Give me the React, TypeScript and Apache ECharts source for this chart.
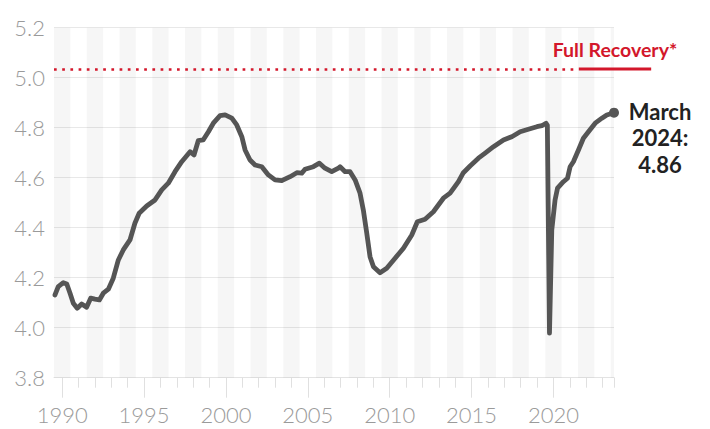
import React, { useEffect, useRef } from "react";
import * as echarts from "echarts";

// Decimal years (Jan = .0) and values
const YEARS = [
  1990.06, 1990.26, 1990.57, 1990.78, 1990.98, 1991.18, 1991.42, 1991.69, 1991.99, 1992.24,
  1992.5, 1992.77, 1993.01, 1993.32, 1993.62, 1993.93, 1994.23, 1994.64, 1994.94, 1995.2,
  1995.66, 1996.17, 1996.58, 1996.98, 1997.39, 1997.8, 1998.31, 1998.55, 1998.81, 1999.11,
  1999.43, 1999.73, 2000.14, 2000.45, 2000.86, 2001.16, 2001.47, 2001.67, 2001.97, 2002.28,
  2002.69, 2003.09, 2003.5, 2003.91, 2004.42, 2004.83, 2005.13, 2005.33, 2005.84, 2006.21,
  2006.55, 2006.96, 2007.37, 2007.47, 2007.78, 2008.08, 2008.39, 2008.69, 2008.89, 2009.1,
  2009.3, 2009.51, 2009.91, 2010.32, 2010.83, 2011.34, 2011.85, 2012.19, 2012.66, 2013.17,
  2013.78, 2014.19, 2014.7, 2015.0, 2015.41, 2015.92, 2016.33, 2016.84, 2017.45, 2017.96,
  2018.47, 2018.97, 2019.49, 2019.79, 2020.05, 2020.13, 2020.26, 2020.4, 2020.6, 2020.75,
  2021.11, 2021.36, 2021.52, 2021.72, 2022.03, 2022.33, 2022.64, 2023.05, 2023.46, 2023.76,
  2024.2,
];
const VALUES = [
  4.131, 4.164, 4.18, 4.175, 4.138, 4.098, 4.078, 4.095, 4.082, 4.118,
  4.114, 4.111, 4.138, 4.154, 4.198, 4.271, 4.311, 4.351, 4.418, 4.458,
  4.487, 4.511, 4.551, 4.578, 4.624, 4.664, 4.704, 4.691, 4.748, 4.751,
  4.784, 4.818, 4.848, 4.851, 4.838, 4.811, 4.764, 4.711, 4.671, 4.651,
  4.644, 4.611, 4.591, 4.588, 4.604, 4.62, 4.618, 4.634, 4.644, 4.658,
  4.638, 4.624, 4.638, 4.644, 4.624, 4.624, 4.591, 4.538, 4.471, 4.378,
  4.284, 4.244, 4.22, 4.238, 4.278, 4.318, 4.371, 4.424, 4.434, 4.464,
  4.518, 4.538, 4.584, 4.62, 4.647, 4.678, 4.698, 4.724, 4.751, 4.764,
  4.784, 4.794, 4.804, 4.808, 4.818, 4.81, 3.978, 4.391, 4.511, 4.558,
  4.584, 4.598, 4.644, 4.664, 4.711, 4.758, 4.784, 4.818, 4.838, 4.851,
  4.86,
];
const LABEL_YEARS = [1990, 1995, 2000, 2005, 2010, 2015, 2020];
const FULL_RECOVERY = 5.035;
const FULL_RECOVERY_TEXT = "Full Recovery*";
const RECOVERY_DOTTED_END = 2021.8;
const RECOVERY_SOLID_START = 2022.05;
const RECOVERY_SOLID_END = 2026.47;
const END_LABEL = ["March", "2024:", "4.86"];
const X_MIN = 1990;
const X_MAX = 2024.2;
const Y_MIN = 3.8;
const Y_MAX = 5.2;
const Y_STEP = 0.2;

export default function App() {
  const ref = useRef<HTMLDivElement>(null);

  useEffect(() => {
    const chart = echarts.init(ref.current!, null, { renderer: "svg" });
    const data = YEARS.map((t, i) => [t, VALUES[i]]);
    const bands: any[] = [];
    for (let y = X_MIN; y < X_MAX; y += 2) {
      bands.push([{ xAxis: y }, { xAxis: Math.min(y + 1, X_MAX) }]);
    }
    const minorTicks: number[] = [];
    for (let y = X_MIN; y + 0.5 < X_MAX; y++) minorTicks.push(y + 0.5);
    minorTicks.push(X_MAX);
    const majorTicks = LABEL_YEARS.map((y) => y + 0.5);
    const lastT = YEARS[YEARS.length - 1];
    const lastV = VALUES[VALUES.length - 1];
    const red = "#d3172b";
    const font = "Lato, 'Noto Sans', sans-serif";

    chart.setOption({
      animation: false,
      grid: { left: 54, right: 96, top: 27.7, bottom: 51.3 },
      xAxis: [
        {
          type: "value",
          min: X_MIN,
          max: X_MAX,
          axisLine: { show: true, lineStyle: { color: "#e3e3e3", width: 1 } },
          axisTick: { show: true, customValues: minorTicks, length: 10, lineStyle: { color: "#e0e0e0" } },
          axisLabel: { show: false },
          splitLine: { show: false },
        },
        {
          type: "value",
          min: X_MIN,
          max: X_MAX,
          position: "bottom",
          axisLine: { show: false },
          axisTick: { show: true, customValues: majorTicks, length: 20, lineStyle: { color: "#e0e0e0" } },
          axisLabel: {
            show: true,
            customValues: majorTicks,
            formatter: (v: number) => String(Math.floor(v)),
            color: "#9a9a9a",
            fontSize: 22,
            fontWeight: 300,
            fontFamily: font,
            margin: 26,
          },
          splitLine: { show: false },
        },
      ],
      yAxis: {
        type: "value",
        min: Y_MIN,
        max: Y_MAX,
        interval: Y_STEP,
        axisLine: { show: false },
        axisTick: { show: false },
        axisLabel: {
          formatter: (v: number) => v.toFixed(1),
          color: "#9a9a9a",
          fontSize: 22,
          fontWeight: 300,
          fontFamily: font,
          margin: 9,
        },
        splitLine: { show: true, lineStyle: { color: "#e8e8e8", width: 1.2 } },
      },
      series: [
        {
          type: "line",
          xAxisIndex: 0,
          data,
          symbol: "none",
          clip: false,
          lineStyle: { color: "#555555", width: 4.8, join: "round", cap: "round" },
          markArea: {
            silent: true,
            itemStyle: { color: "rgba(0,0,0,0.037)" },
            data: bands,
          },
          markLine: {
            silent: true,
            symbol: "none",
            data: [
              [
                {
                  coord: [X_MIN, FULL_RECOVERY],
                  lineStyle: { color: red, width: 2.7, type: [2.7, 5.5] },
                  label: { show: false },
                },
                { coord: [RECOVERY_DOTTED_END, FULL_RECOVERY] },
              ],
            ],
          },
          markPoint: {
            silent: true,
            symbol: "circle",
            symbolSize: 10,
            itemStyle: { color: "#555555" },
            data: [
              {
                coord: [lastT, lastV],
                label: {
                  show: true,
                  position: "inside",
                  offset: [46, 25],
                  formatter: END_LABEL.join("\n"),
                  color: "#222222",
                  fontSize: 22,
                  fontWeight: "bold",
                  fontFamily: font,
                  lineHeight: 26.5,
                  align: "center",
                  verticalAlign: "middle",
                },
              },
            ],
          },
        },
      ],
    });

    const p1 = chart.convertToPixel({ xAxisIndex: 0, yAxisIndex: 0 }, [RECOVERY_SOLID_START, FULL_RECOVERY]) as number[];
    const p2 = chart.convertToPixel({ xAxisIndex: 0, yAxisIndex: 0 }, [RECOVERY_SOLID_END, FULL_RECOVERY]) as number[];
    chart.setOption({
      graphic: [
        {
          type: "line",
          silent: true,
          shape: { x1: p1[0], y1: p1[1], x2: p2[0], y2: p2[1] },
          style: { stroke: red, lineWidth: 3 },
          z: 10,
        },
        {
          type: "text",
          silent: true,
          x: (p1[0] + p2[0]) / 2,
          y: p1[1] - 9,
          style: {
            text: FULL_RECOVERY_TEXT,
            fill: red,
            font: `bold 19.5px ${font}`,
            align: "center",
            verticalAlign: "bottom",
          },
          z: 10,
        },
      ],
    });
    return () => chart.dispose();
  }, []);

  return (
    <div
      ref={ref}
      style={{ position: "fixed", left: 0, top: 0, width: 710, height: 429, background: "#fff" }}
    />
  );
}
